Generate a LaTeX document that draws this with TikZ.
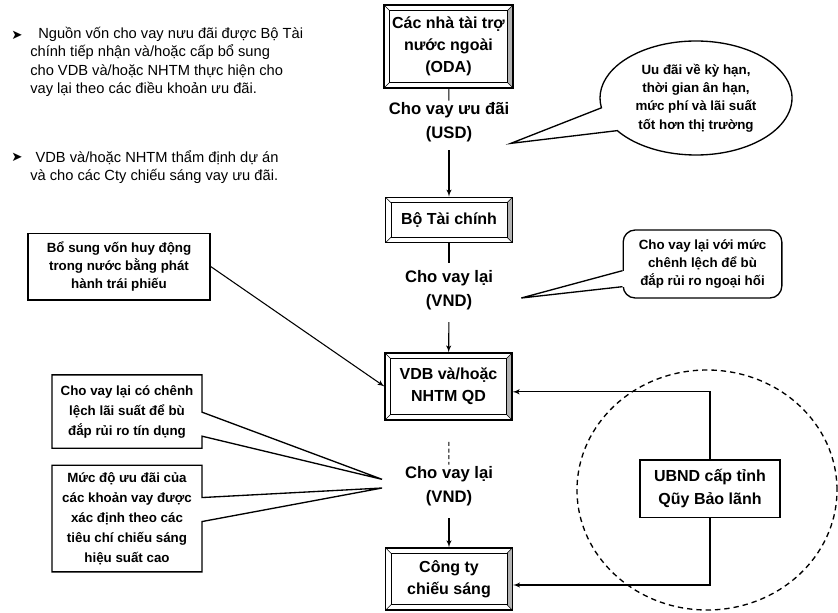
\documentclass[tikz,border=0pt]{standalone}
\usepackage{fontspec}
\setmainfont{Liberation Sans}
\newfontfamily\dingfont{DejaVu Sans}
\usetikzlibrary{arrows,shapes.geometric,shapes.callouts}

\tikzstyle{institution} = [rectangle, draw, line width=1.1pt, fill=white, align=center,
minimum width=95pt, inner sep=6pt, font=\bfseries\fontsize{12}{16.5}\selectfont,
path picture={
  \fill [black!30] (path picture bounding box.north east) -- (path picture bounding box.south east)
     -- ([shift={(-4pt,4pt)}]path picture bounding box.south east)
     -- ([shift={(-4pt,-4pt)}]path picture bounding box.north east) -- cycle;
  \draw [thin] ([shift={(4pt,-4pt)}]path picture bounding box.north west)
     rectangle ([shift={(-4pt,4pt)}]path picture bounding box.south east);
  \draw [thin] (path picture bounding box.north west) -- ++(4pt,-4pt)
     (path picture bounding box.north east) -- ++(-4pt,-4pt)
     (path picture bounding box.south west) -- ++(4pt,4pt)
     (path picture bounding box.south east) -- ++(-4pt,4pt);}]
\tikzstyle{note} = [rectangle, draw, line width=1pt, fill=white, align=center,
font=\bfseries\fontsize{10}{13.75}\selectfont]
\tikzstyle{remark} = [rectangle callout, draw, line width=1pt, fill=white, align=center,
minimum width=112.5pt, callout pointer width=18pt, font=\bfseries\fontsize{10}{15}\selectfont]
\tikzstyle{bubble} = [ellipse callout, draw, line width=1pt, fill=white, align=center,
minimum width=144pt, minimum height=85.5pt, inner sep=0pt, callout pointer arc=25,
font=\bfseries\fontsize{10}{13.75}\selectfont]
\tikzstyle{roundnote} = [rectangle, draw, line width=1pt, fill=white, align=center,
rounded corners=9pt, minimum width=119pt, minimum height=51pt,
font=\bfseries\fontsize{10}{13.75}\selectfont]
\tikzstyle{flowlabel} = [align=center, inner sep=1pt, font=\bfseries\fontsize{12.5}{18}\selectfont]
\tikzstyle{bulletmark} = [inner sep=0pt, font=\dingfont\fontsize{10}{10}\selectfont]
\tikzstyle{bullettext} = [align=left, anchor=west, inner sep=0pt, font=\fontsize{11}{13.75}\selectfont]
\tikzstyle{line} = [draw, line width=0.8pt, -latex']

\begin{document}
\begin{tikzpicture}[x=0.75pt, y=-0.75pt]
  \useasboundingbox (0,0) rectangle (838,613);

	%Guarantee zone
	\draw [dashed, line width=1pt, dash pattern=on 4pt off 3pt] (707,490) ellipse [x radius=97.5pt, y radius=90pt];

	%Notes
	\node [bulletmark] (mark1) at (17,35) {➤};
	\node [bullettext] (text1) at (30,62) {\hspace{6pt}Nguồn vốn cho vay nưu đãi được Bộ Tài\\chính tiếp nhận và/hoặc cấp bổ sung\\cho VDB và/hoặc NHTM thực hiện cho\\vay lại theo các điều khoản ưu đãi.};
	\node [bulletmark] (mark2) at (17,157) {➤};
	\node [bullettext] (text2) at (30,167) {\hspace{4pt}VDB và/hoặc NHTM thẩm định dự án\\và cho các Cty chiếu sáng vay ưu đãi.};

	%Nodes
	\node [institution, minimum height=62pt] (oda) at (448.5,46.5) {Các nhà tài trợ\\nước ngoài\\(ODA)};
	\node [flowlabel] (usd) at (449,122) {Cho vay ưu đãi\\(USD)};
	\node [institution, minimum height=34pt] (btc) at (449,220) {Bộ Tài chính};
	\node [flowlabel] (vnd1) at (449,290) {Cho vay lại\\(VND)};
	\node [institution, minimum height=50pt] (vdb) at (448.5,386.5) {VDB và/hoặc\\NHTM QD};
	\node [flowlabel] (vnd2) at (449,486) {Cho vay lại\\(VND)};
	\node [institution, minimum height=46.5pt] (cty) at (449,579) {Công ty\\chiếu sáng};

	\node [note, minimum width=136.5pt, minimum height=50pt] (bond) at (119,266.5) {Bổ sung vốn huy động\\trong nước bằng phát\\hành trái phiếu};
	\node [note, minimum width=105pt, minimum height=43pt, font=\bfseries\fontsize{12}{17}\selectfont] (ubnd) at (710,488.5) {UBND cấp tỉnh\\Qũy Bảo lãnh};

	%Callouts
	\node [bubble, callout absolute pointer={(usd.south east)}] (terms) at (696,98) {Uu đãi về kỳ hạn,\\thời gian ân hạn,\\mức phí và lãi suất\\tốt hơn thị trường};

	\node [roundnote] (fx) at (702.5,264) {Cho vay lại với mức\\chênh lệch để bù\\đắp rủi ro ngoại hối};
	\coordinate (fxtip) at ([shift={(20pt,-6pt)}]vnd1.east);
	\fill [white] ([shift={(2pt,-5pt)}]fx.west) -- (fxtip) -- ([shift={(2pt,-17pt)}]fx.west) -- cycle;
	\draw [line width=1pt] ([yshift=-5pt]fx.west) -- (fxtip) -- ([yshift=-17pt]fx.west);

	\coordinate (tipc) at ([shift={(-16pt,5pt)}]vnd2.west);
	\coordinate (tipp) at ([shift={(-16pt,-1.5pt)}]vnd2.west);
	\node [remark, minimum height=55pt, callout absolute pointer={(tipc)}] (credit) at (127,411.5) {Cho vay lại có chênh\\lệch lãi suất để bù\\đắp rủi ro tín dụng};
	\node [remark, minimum height=80pt, callout absolute pointer={(tipp)}] (pref) at (127,518.5) {Mức độ ưu đãi của\\các khoản vay được\\xác định theo các\\tiêu chí chiếu sáng\\hiệu suất cao};

	%Lines
	\draw [line width=0.8pt] (oda) -- (usd);
	\path [line, shorten <=5pt] (usd) -- (btc);
	\draw [line width=0.8pt, shorten >=4pt] (btc) -- (vnd1);
	\path [line, shorten <=8pt] (vnd1) -- (vdb);
	\draw [densely dashed, line width=0.8pt, shorten <=16pt] (vdb) -- (vnd2);
	\path [line, shorten <=8pt] (vnd2) -- (cty);
	\path [line] (bond.east) -- (vdb.west);
	\path [line] (ubnd.north) |- ([yshift=-4pt]vdb.east);
	\path [line] (ubnd.south) |- ([yshift=-4.5pt]cty.east);
\end{tikzpicture}
\end{document}
